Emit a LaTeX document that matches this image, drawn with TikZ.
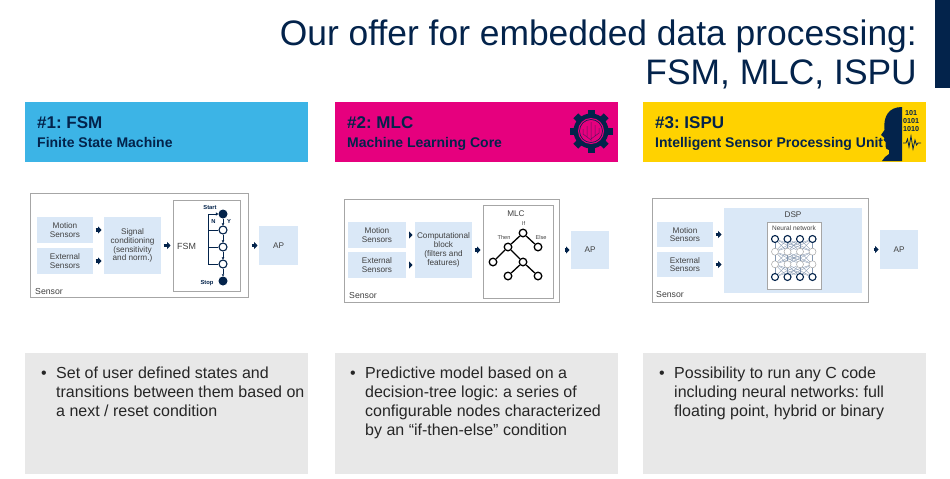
\documentclass[tikz,border=0pt]{standalone}
\usepackage{fontspec}
\setmainfont{Liberation Sans}
\usetikzlibrary{arrows.meta}
\frenchspacing
\definecolor{stnavy}{HTML}{03234B}
\definecolor{stblue}{HTML}{3CB4E6}
\definecolor{stpink}{HTML}{E6007E}
\definecolor{styellow}{HTML}{FFD200}
\definecolor{boxblue}{HTML}{DAE8F7}
\definecolor{framegray}{HTML}{A6A6A6}
\definecolor{notegray}{HTML}{E8E8E8}
\definecolor{txtgray}{HTML}{404040}
\definecolor{linkgray}{HTML}{8497B0}
\tikzset{
  headbox/.style={inner sep=0, outer sep=0, minimum width=283pt, minimum height=60pt},
  headtitle/.style={anchor=base west, inner sep=0, text=stnavy, font=\bfseries\fontsize{17}{20}\selectfont},
  headsub/.style={anchor=base west, inner sep=0, text=stnavy, font=\bfseries\fontsize{14}{16}\selectfont},
  sensorbox/.style={draw=framegray, line width=0.9pt, fill=white, inner sep=0, outer sep=0},
  framebox/.style={draw=framegray, line width=0.8pt, fill=white, inner sep=0, outer sep=0},
  lbox/.style={fill=boxblue, inner sep=0, outer sep=0, align=center, text=txtgray, font=\fontsize{8.2}{8.8}\selectfont},
  sensorlabel/.style={anchor=base west, inner sep=0, text=txtgray, font=\fontsize{8.7}{10}\selectfont},
  feed/.style={stnavy, line width=3.4pt, -{Triangle[length=3.4pt, width=7pt]}, shorten <=2.5pt, shorten >=2.5pt},
  tohost/.style={feed, shorten <=11.5pt, shorten >=1.5pt},
  endstate/.style={circle, fill=stnavy, inner sep=0, minimum size=9pt},
  midstate/.style={circle, draw=stnavy, line width=1.1pt, fill=white, inner sep=0, minimum size=8pt},
  treenode/.style={circle, draw=black, line width=1.3pt, fill=white, inner sep=0, minimum size=7.6pt},
  nnouter/.style={circle, draw=stnavy, line width=1.1pt, fill=white, inner sep=0, minimum size=7pt},
  nninner/.style={circle, draw=framegray, line width=0.5pt, fill=white, inner sep=0, minimum size=7pt},
  tiny/.style={inner sep=0, font=\bfseries\fontsize{5.8}{6}\selectfont, text=stnavy},
  note/.style={notegray, inner sep=0, outer sep=0, minimum width=283pt, minimum height=121pt, fill=notegray},
  notetext/.style={anchor=north west, inner sep=0, align=left, text=black!85, font=\fontsize{16}{19}\selectfont}
}
\begin{document}
\begin{tikzpicture}[x=1pt, y=-1pt]
  \useasboundingbox (0,0) rectangle (950,479);
  \fill[white] (0,0) rectangle (950,479);

  \fill[stnavy] (935,0) rectangle (950,88);
  \node[anchor=base east, inner sep=0, text=stnavy, font=\fontsize{35.4}{40}\selectfont] (title1) at (917,45) {Our offer for embedded data processing:};
  \node[anchor=base east, inner sep=0, text=stnavy, font=\fontsize{35.4}{40}\selectfont] (title2) at (917,84) {FSM, MLC, ISPU};

  \node[headbox, fill=stblue] (head1) at (166.5,132) {};
  \node[headbox, fill=stpink] (head2) at (476,132) {};
  \node[headbox, fill=styellow] (head3) at (784.5,132) {};
  \node[headtitle] at (37,128) {\#1: FSM};
  \node[headsub] at (37,147) {Finite State Machine};
  \node[headtitle] at (347,128) {\#2: MLC};
  \node[headsub] at (347,147) {Machine Learning Core};
  \node[headtitle] at (655,128) {\#3: ISPU};
  \node[headsub] at (655,147) {Intelligent Sensor Processing Unit};

  \fill[stnavy] (591,131) circle (17.5);
  \foreach \a in {0,45,...,315}
    \fill[stnavy, rotate around={\a:(591,131)}] (587.5,109.5) rectangle (594.5,116);
  \fill[stpink] (591,131) circle (13);
  \draw[stnavy, line width=0.6pt] (591,131) circle (11.5);
  \draw[stnavy!60!stpink, line width=0.5pt] (591,122) -- (591,141) (587,126) -- (587,137) -- (591,140) (595,125) -- (595,136) -- (591,139) (583,129) -- (583,134) -- (587,137) (599,128) -- (599,133) -- (595,136);

  \fill[stnavy] (902,107) -- (902,161) -- (882,161) -- (885,157) -- (889,154) -- (889,150) .. controls (886,149) .. (885.5,146) -- (885.5,142) -- (883.5,140) -- (884.5,138) -- (881,135) -- (884.5,130) .. controls (883,116) and (889,107) .. (902,107) -- cycle;
  \node[inner sep=0, align=center, text=stnavy, font=\bfseries\fontsize{7.2}{7.6}\selectfont] (bits) at (911,121) {101\\0101\\1010};
  \draw[stnavy, line width=0.8pt] (903,143) -- (906,143) -- (907.5,139) -- (909,147) -- (911,136) -- (913,149) -- (915,140) -- (916.5,145) -- (918,143) -- (921,143);

  \node[sensorbox, minimum width=218pt, minimum height=104pt] (sens1) at (139,245) {};
  \node[sensorlabel] at (35,294) {Sensor};
  \node[lbox, minimum width=56pt, minimum height=26pt] (mot1) at (65,230) {Motion\\Sensors};
  \node[lbox, minimum width=56pt, minimum height=26pt] (ext1) at (65,261) {External\\Sensors};
  \node[lbox, minimum width=57pt, minimum height=57pt] (sig1) at (132.5,245.5) {Signal\\conditioning\\(sensitivity\\and norm.)};
  \node[framebox, minimum width=67pt, minimum height=91pt] (fsm1) at (206.5,245.5) {};
  \node[anchor=west, inner sep=0, text=txtgray, font=\fontsize{8.9}{10}\selectfont] at (177,246) {FSM};
  \node[lbox, minimum width=39pt, minimum height=39pt] (ap1) at (278.5,245.5) {AP};
  \draw[feed] (mot1.east) -- (mot1.east -| sig1.west);
  \draw[feed] (ext1.east) -- (ext1.east -| sig1.west);
  \draw[feed] (sig1.east) -- (fsm1.west);
  \draw[tohost] (fsm1.east) -- (ap1.west);
  \node[endstate] (st0) at (223,214) {};
  \node[midstate] (st1) at (223,230) {};
  \node[midstate] (st2) at (223,247) {};
  \node[midstate] (st3) at (223,264) {};
  \node[endstate] (st4) at (223,281) {};
  \coordinate (rs) at (208,214);
  \foreach \u/\v in {st0/st1,st1/st2,st2/st3,st3/st4}
    \draw[stnavy, line width=0.7pt, -{Triangle[length=2pt, width=2.4pt]}] (\u) -- (\v);
  \draw[stnavy, line width=0.9pt, -{Triangle[length=2.4pt, width=3pt]}] (st3.west) -| (rs) -- (st0);
  \draw[stnavy, line width=0.9pt] (st1.west) -- (st1.west -| rs) (st2.west) -- (st2.west -| rs);
  \node[tiny] at (210,208) {Start};
  \node[tiny] at (207,283) {Stop};
  \node[tiny] at (213.5,222) {N};
  \node[tiny] at (229,222) {Y};

  \node[sensorbox, minimum width=215pt, minimum height=103pt] (sens2) at (451.5,250.5) {};
  \node[sensorlabel] at (349,298) {Sensor};
  \node[lbox, minimum width=58pt, minimum height=26pt] (mot2) at (377,235) {Motion\\Sensors};
  \node[lbox, minimum width=58pt, minimum height=26pt] (ext2) at (377,265) {External\\Sensors};
  \node[lbox, minimum width=57pt, minimum height=56pt] (comp2) at (443.5,250) {Computational\\block\\(filters and\\features)};
  \node[framebox, minimum width=70pt, minimum height=93pt] (mlc2) at (518,251.5) {};
  \node[lbox, minimum width=38pt, minimum height=38pt] (ap2) at (590,250) {AP};
  \draw[feed] (mot2.east) -- (mot2.east -| comp2.west);
  \draw[feed] (ext2.east) -- (ext2.east -| comp2.west);
  \draw[feed] (comp2.east) -- (comp2.east -| mlc2.west);
  \draw[tohost] (mlc2.east |- ap2.west) -- (ap2.west);
  \node[inner sep=0, text=txtgray, font=\fontsize{8.2}{9}\selectfont] at (516,214) {MLC};
  \node[treenode] (t0) at (523,233) {};
  \node[treenode] (t1) at (508,247) {};
  \node[treenode] (t2) at (538,247) {};
  \node[treenode] (t3) at (493,262) {};
  \node[treenode] (t4) at (523,262) {};
  \node[treenode] (t5) at (508,276) {};
  \node[treenode] (t6) at (538,276) {};
  \foreach \u/\v in {t0/t1,t0/t2,t1/t3,t1/t4,t4/t5,t4/t6}
    \draw[black, line width=1.3pt] (\u) -- (\v);
  \node[inner sep=0, text=txtgray, font=\fontsize{5.6}{6}\selectfont] at (523.5,223) {If};
  \node[inner sep=0, text=txtgray, font=\fontsize{5.6}{6}\selectfont] at (504,237) {Then};
  \node[inner sep=0, text=txtgray, font=\fontsize{5.6}{6}\selectfont] at (541,237) {Else};

  \node[sensorbox, minimum width=216pt, minimum height=104pt] (sens3) at (760,250) {};
  \node[sensorlabel] at (656,297) {Sensor};
  \node[lbox, minimum width=56pt, minimum height=25pt] (mot3) at (685,234.5) {Motion\\Sensors};
  \node[lbox, minimum width=56pt, minimum height=25pt] (ext3) at (685,264.5) {External\\Sensors};
  \node[lbox, minimum width=138pt, minimum height=85pt] (dsp3) at (793,250.5) {};
  \node[inner sep=0, text=txtgray, font=\fontsize{8.2}{9}\selectfont] at (793,215) {DSP};
  \node[framebox, minimum width=54pt, minimum height=67pt] (nn3) at (794,255.5) {};
  \node[inner sep=0, text=txtgray, font=\fontsize{6.5}{7}\selectfont] at (794,228.5) {Neural network};
  \node[lbox, minimum width=38pt, minimum height=39pt] (ap3) at (899,249.5) {AP};
  \draw[feed] (mot3.east) -- (mot3.east -| dsp3.west);
  \draw[feed] (ext3.east) -- (ext3.east -| dsp3.west);
  \draw[tohost] (dsp3.east |- ap3.west) -- (ap3.west);
  \foreach \r/\y in {1/239,4/277}
    \foreach \c/\x in {1/775,2/787.5,3/800,4/812.5}
      \node[nnouter] (n\r\c) at (\x,\y) {};
  \foreach \r/\y in {2/251.7,3/264.3}
    \foreach \c/\x in {1/775,2/787.5,3/800,4/812.5}
      \node[nninner] (n\r\c) at (\x,\y) {};
  \foreach \r/\s in {1/2,2/3,3/4}
    \foreach \c in {1,...,4}
      \foreach \d in {1,...,4}
        \draw[linkgray, line width=0.35pt] (n\r\c) -- (n\s\d);

  \node[note] (note1) at (166.5,413.5) {};
  \node[note] (note2) at (476,413.5) {};
  \node[note] (note3) at (784.5,413.5) {};
  \node[notetext] at (56,367) {\llap{\textbullet\hspace{9.5pt}}Set of user defined states and\\transitions between them based on\\a next / reset condition};
  \node[notetext] at (365,367) {\llap{\textbullet\hspace{9.5pt}}Predictive model based on a\\decision-tree logic: a series of\\configurable nodes characterized\\by an “if-then-else” condition};
  \node[notetext] at (674,367) {\llap{\textbullet\hspace{9.5pt}}Possibility to run any C code\\including neural networks: full\\floating point, hybrid or binary};
\end{tikzpicture}
\end{document}
